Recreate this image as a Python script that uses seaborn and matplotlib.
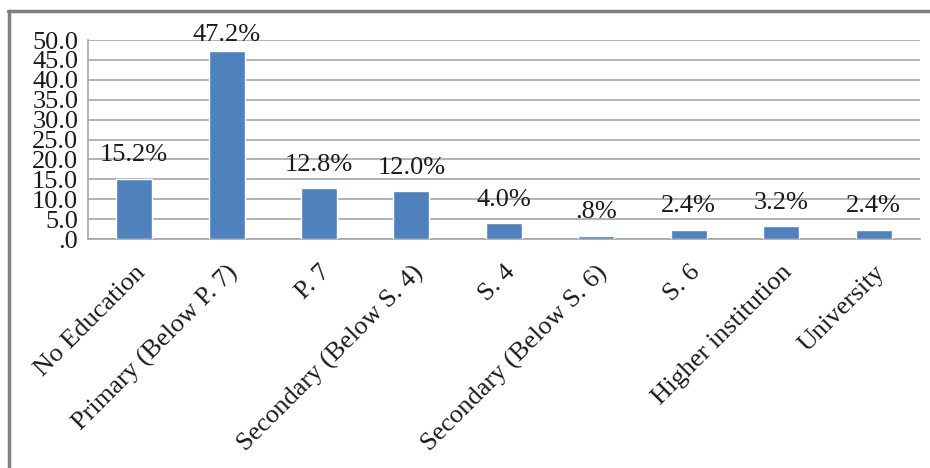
import matplotlib
matplotlib.use("Agg")
import matplotlib.pyplot as plt
from matplotlib.lines import Line2D
import seaborn as sns
import pandas as pd

categories = ["No Education", "Primary (Below P. 7)", "P. 7", "Secondary (Below S. 4)",
              "S. 4", "Secondary (Below S. 6)", "S. 6", "Higher institution", "University"]
percent = [15.2, 47.2, 12.8, 12.0, 4.0, 0.8, 2.4, 3.2, 2.4]
value_labels = ["15.2%", "47.2%", "12.8%", "12.0%", "4.0%", ".8%", "2.4%", "3.2%", "2.4%"]
y_ticks = [0, 5, 10, 15, 20, 25, 30, 35, 40, 45, 50]
y_tick_labels = [".0", "5.0", "10.0", "15.0", "20.0", "25.0", "30.0", "35.0", "40.0", "45.0", "50.0"]

sns.set_theme(style="white")
plt.rcParams["font.family"] = ["Liberation Serif", "DejaVu Serif"]

df = pd.DataFrame({"level": categories, "pct": percent})

fig = plt.figure(figsize=(9.3, 4.68), dpi=100)
ax = fig.add_axes([0.0946, 0.489, 0.8944, 0.4255])

sns.barplot(data=df, x="level", y="pct", color="#4F81BD", width=0.39,
            saturation=1, ax=ax, zorder=3)

grid_c = "#A6A6A6"
txt_c = "#1a1a1a"
fs = 19
ax.set_ylim(0, 50)
ax.set_xlim(-0.5, len(categories) - 0.5)
ax.set_yticks(y_ticks)
ax.set_yticklabels(y_tick_labels, fontsize=fs, color=txt_c)
ax.yaxis.grid(True, color=grid_c, linewidth=1.2, zorder=0)
ax.set_axisbelow(True)
for side in ["top", "right"]:
    ax.spines[side].set_visible(False)
for side in ["left", "bottom"]:
    ax.spines[side].set_color(grid_c)
    ax.spines[side].set_linewidth(1.2)

# category ticks sit at the boundaries between bars
ax.set_xticks([i - 0.5 for i in range(len(categories) + 1)], minor=False)
ax.set_xticklabels([""] * (len(categories) + 1))
ax.tick_params(axis="x", which="major", direction="out", length=6, width=1.2, color=grid_c)
ax.tick_params(axis="y", which="major", direction="out", length=6, width=1.2, color=grid_c, pad=1)
ax.set_xticks(range(len(categories)), minor=True)
ax.set_xticklabels(categories, minor=True, rotation=45, ha="right",
                   rotation_mode="anchor", fontsize=fs, color=txt_c)
ax.tick_params(axis="x", which="minor", length=0, pad=16)
ax.set_xlabel("")
ax.set_ylabel("")

for i, (v, t) in enumerate(zip(percent, value_labels)):
    off = 4 if v == max(percent) else 9
    ax.annotate(t, (i, v), xytext=(0, off), textcoords="offset points",
                ha="center", va="bottom", fontsize=fs, color=txt_c)

# frame lines along the top and left of the figure
fig.add_artist(Line2D([8 / 930, 1], [1 - 11 / 468, 1 - 11 / 468],
                      transform=fig.transFigure, color="#808080", linewidth=2.5))
fig.add_artist(Line2D([9 / 930, 9 / 930], [0, 1 - 11 / 468],
                      transform=fig.transFigure, color="#808080", linewidth=2.5))

fig.savefig("out.png", dpi=100)
